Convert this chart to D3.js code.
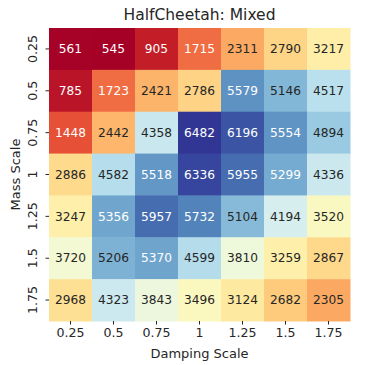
<!DOCTYPE html>
<html>
<head>
<meta charset="utf-8">
<script src="https://cdn.jsdelivr.net/npm/d3@7"></script>
<style>
  body { margin: 0; background: #fff; }
  svg text { font-family: "DejaVu Sans", sans-serif; }
</style>
</head>
<body>
<div id="chart"></div>
<script>
const dampingScales = ["0.25", "0.5", "0.75", "1", "1.25", "1.5", "1.75"];
const massScales = ["0.25", "0.5", "0.75", "1", "1.25", "1.5", "1.75"];

// rows = mass scale, columns = damping scale
const returns = [
  [561, 545, 905, 1715, 2311, 2790, 3217],
  [785, 1723, 2421, 2786, 5579, 5146, 4517],
  [1448, 2442, 4358, 6482, 6196, 5554, 4894],
  [2886, 4582, 5518, 6336, 5955, 5299, 4336],
  [3247, 5356, 5957, 5732, 5104, 4194, 3520],
  [3720, 5206, 5370, 4599, 3810, 3259, 2867],
  [2968, 4323, 3843, 3496, 3124, 2682, 2305]
];

const width = 389;
const height = 365;
const margin = { top: 28, right: 39, bottom: 44, left: 49 };

const svg = d3.select("#chart")
  .append("svg")
  .attr("width", width)
  .attr("height", height);

const x = d3.scaleBand()
  .domain(dampingScales)
  .range([margin.left, width - margin.right]);

const y = d3.scaleBand()
  .domain(massScales)
  .range([margin.top, height - margin.bottom]);

const allVals = returns.flat();
const color = d3.scaleSequential(d3.interpolateRdYlBu)
  .domain(d3.extent(allVals));

// flatten into cells
const cells = [];
returns.forEach((row, i) => {
  row.forEach((v, j) => {
    cells.push({ mass: massScales[i], damp: dampingScales[j], value: v });
  });
});

// same rule seaborn uses to pick the annotation colour
function luminance(c) {
  const rgb = d3.rgb(c);
  const f = (v) => {
    v = v / 255;
    return v <= 0.03928 ? v / 12.92 : Math.pow((v + 0.055) / 1.055, 2.4);
  };
  return 0.2126 * f(rgb.r) + 0.7152 * f(rgb.g) + 0.0722 * f(rgb.b);
}

svg.selectAll(".cell")
  .data(cells)
  .enter()
  .append("rect")
  .attr("class", "cell")
  .attr("x", (d) => x(d.damp))
  .attr("y", (d) => y(d.mass))
  .attr("width", x.bandwidth() + 0.5)
  .attr("height", y.bandwidth() + 0.5)
  .attr("fill", (d) => color(d.value));

svg.selectAll(".annot")
  .data(cells)
  .enter()
  .append("text")
  .attr("class", "annot")
  .attr("x", (d) => x(d.damp) + x.bandwidth() / 2)
  .attr("y", (d) => y(d.mass) + y.bandwidth() / 2)
  .attr("dy", "0.35em")
  .attr("text-anchor", "middle")
  .style("font-size", "12.2px")
  .attr("fill", (d) => (luminance(color(d.value)) > 0.408 ? "#262626" : "#fff"))
  .text((d) => d.value);

// axes
const xAxis = svg.append("g")
  .attr("transform", `translate(0,${height - margin.bottom})`)
  .call(d3.axisBottom(x).tickSize(3.5).tickPadding(4));
xAxis.select(".domain").remove();
xAxis.selectAll("text").style("font-size", "12.6px").attr("fill", "#262626");
xAxis.selectAll("line").attr("stroke", "#262626");

const yAxis = svg.append("g")
  .attr("transform", `translate(${margin.left},0)`)
  .call(d3.axisLeft(y).tickSize(3.5).tickPadding(4));
yAxis.select(".domain").remove();
yAxis.selectAll("line").attr("stroke", "#262626");
yAxis.selectAll("text")
  .style("font-size", "12.6px")
  .attr("fill", "#262626")
  .attr("text-anchor", "middle")
  .attr("x", 0)
  .attr("dy", 0)
  .attr("transform", "translate(-12,0) rotate(-90)");

// labels
svg.append("text")
  .attr("x", (margin.left + width - margin.right) / 2)
  .attr("y", height - 7)
  .attr("text-anchor", "middle")
  .attr("fill", "#262626")
  .style("font-size", "13px")
  .text("Damping Scale");

svg.append("text")
  .attr("transform", `translate(20,${(margin.top + height - margin.bottom) / 2}) rotate(-90)`)
  .attr("text-anchor", "middle")
  .attr("fill", "#262626")
  .style("font-size", "13px")
  .text("Mass Scale");

svg.append("text")
  .attr("x", (margin.left + width - margin.right) / 2)
  .attr("y", 20)
  .attr("text-anchor", "middle")
  .attr("fill", "#262626")
  .style("font-size", "15.5px")
  .text("HalfCheetah: Mixed");
</script>
</body>
</html>
